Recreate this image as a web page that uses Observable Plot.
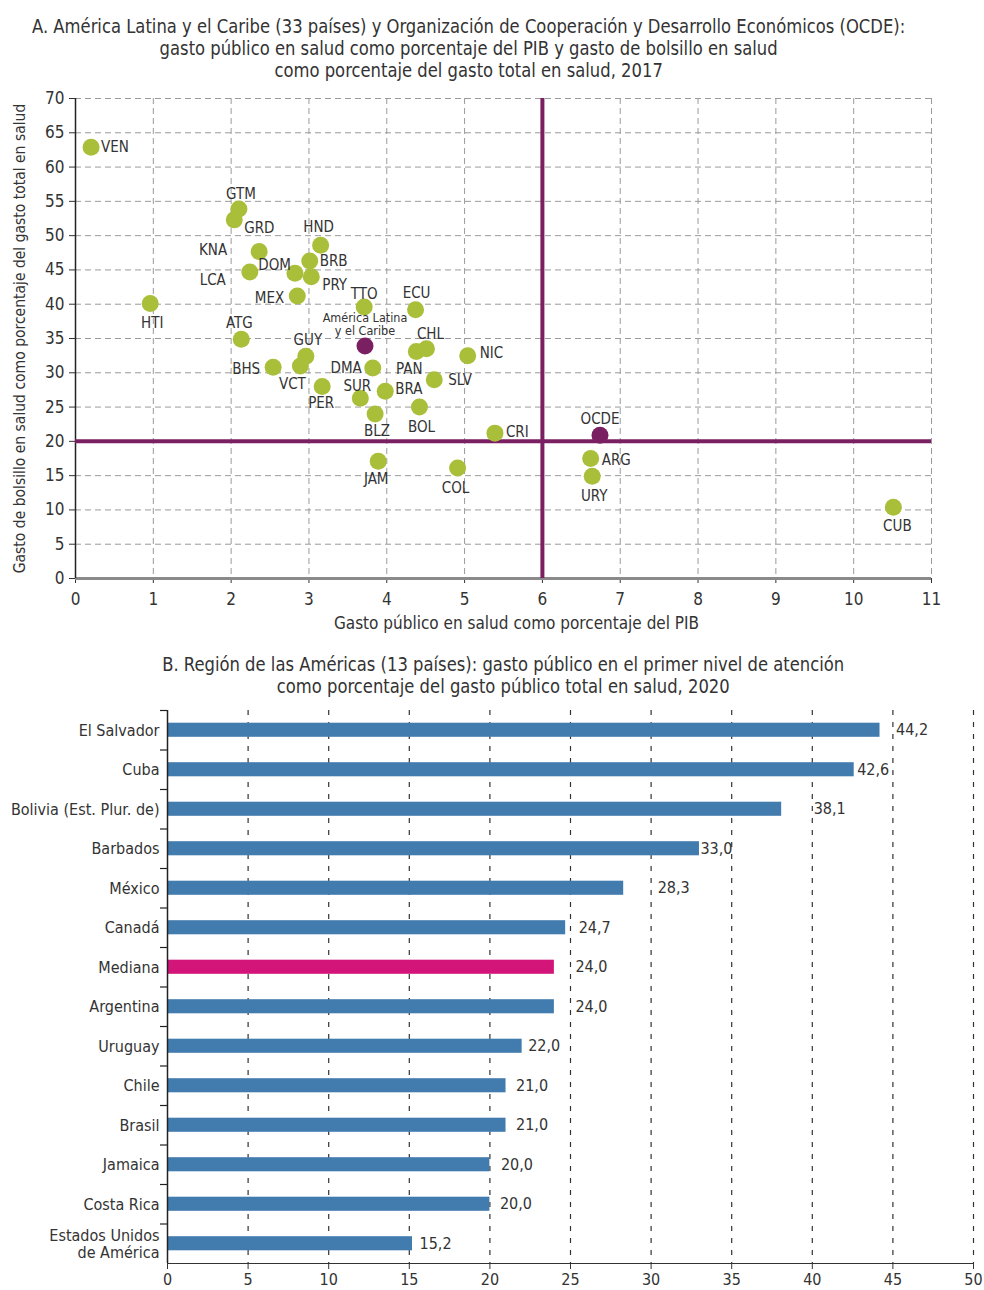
<!DOCTYPE html>
<html><head><meta charset="utf-8">
<script src="https://cdn.jsdelivr.net/npm/d3@7"></script>
<script src="https://cdn.jsdelivr.net/npm/@observablehq/plot@0.6"></script>
<style>
body{margin:0;background:#fff;font-family:"Liberation Sans Narrow","DejaVu Sans Condensed","Roboto Condensed",sans-serif;color:#333;}
.t{box-sizing:border-box;width:984px;text-align:center;font-size:19.5px;line-height:22px;transform:scaleX(0.935);}
#ta{padding:16px 50px 0 0;height:88px;}
#tb{padding:16px 0 0 24px;height:60px;}
svg{display:block}
</style></head><body>
<div id="ta" class="t">A. América Latina y el Caribe (33 países) y Organización de Cooperación y Desarrollo Económicos (OCDE):<br>gasto público en salud como porcentaje del PIB y gasto de bolsillo en salud<br>como porcentaje del gasto total en salud, 2017</div>
<div id="chartA"></div>
<div id="tb" class="t">B. Región de las Américas (13 países): gasto público en el primer nivel de atención<br>como porcentaje del gasto público total en salud, 2020</div>
<div id="chartB"></div>
<script>
// ---------- Data: chart A ----------
const codes = ["VEN","GTM","GRD","HND","KNA","BRB","DOM","LCA","PRY","MEX","HTI","TTO","ECU","ATG","CHL","PAN","NIC","GUY","VCT","BHS","DMA","SLV","PER","BRA","SUR","BOL","BLZ","CRI","JAM","COL","ARG","URY","CUB"];
const gastoPublicoPIB = [0.20,2.10,2.04,3.15,2.36,3.01,2.82,2.24,3.03,2.85,0.96,3.71,4.37,2.13,4.51,4.38,5.04,2.96,2.89,2.54,3.82,4.61,3.17,3.98,3.66,4.42,3.85,5.39,3.89,4.91,6.62,6.64,10.51];
const gastoBolsillo = [62.9,53.9,52.3,48.6,47.7,46.3,44.5,44.7,44.0,41.2,40.1,39.6,39.2,34.9,33.5,33.1,32.5,32.4,31.0,30.8,30.7,29.0,28.0,27.3,26.3,25.0,24.0,21.2,17.1,16.1,17.5,14.9,10.4];
const aggNames = ["América Latina\ny el Caribe","OCDE"];
const aggPIB = [3.72, 6.74];
const aggBolsillo = [33.9, 20.9];
const metaPIB = 6;        // reference line
const metaBolsillo = 20;  // reference line
const xTicksA = [0,1,2,3,4,5,6,7,8,9,10,11];
const yTicksA = [0,5,10,15,20,25,30,35,40,45,50,55,60,65,70];
const xLabelA = "Gasto público en salud como porcentaje del PIB";
const yLabelA = "Gasto de bolsillo en salud como porcentaje del gasto total en salud";

// ---------- Data: chart B ----------
const paises = ["El Salvador","Cuba","Bolivia (Est. Plur. de)","Barbados","México","Canadá","Mediana","Argentina","Uruguay","Chile","Brasil","Jamaica","Costa Rica","Estados Unidos de América"];
const primerNivel = [44.2,42.6,38.1,33.0,28.3,24.7,24.0,24.0,22.0,21.0,21.0,20.0,20.0,15.2];
const xTicksB = [0,5,10,15,20,25,30,35,40,45,50];

// ---------- Layout (label placement, not data) ----------
const labelPlace = {
  VEN:["start",10,0], GTM:["middle",2,-15], GRD:["start",10,8], HND:["middle",-2,-18],
  KNA:["end",-32,-1], BRB:["start",10,0], DOM:["end",-4,-8], LCA:["end",-24,8],
  PRY:["start",11,8], MEX:["end",-13,2], HTI:["middle",2,20], TTO:["middle",0,-13],
  ECU:["middle",1,-17], ATG:["middle",-2,-16], CHL:["middle",4,-15], PAN:["middle",-7,18],
  NIC:["start",12,-2], GUY:["middle",2,-16], VCT:["middle",-8,18], BHS:["end",-13,2],
  DMA:["end",-11,0], SLV:["start",14,1], PER:["middle",-1,17], BRA:["start",10,-2],
  SUR:["middle",-3,-12], BOL:["middle",2,20], BLZ:["middle",2,17], CRI:["start",11,-1],
  JAM:["middle",-2,18], COL:["middle",-2,20], ARG:["start",11,2], URY:["middle",2,20],
  CUB:["middle",4,19]
};
const barLabelDx = [16,3,32,1,34,13,21,21,6,10,10,11,10,7];

const FONT = '"Liberation Sans Narrow","DejaVu Sans Condensed","Roboto Condensed",sans-serif';
const GREEN = "#a9bf3a", PURPLE = "#7b1f63", BLUE = "#427cae", MAGENTA = "#d3157a", TXT = "#333";

// ---------- Chart A ----------
const pts = codes.map((c,i) => ({code:c, x:gastoPublicoPIB[i], y:gastoBolsillo[i]}));
const aggs = aggNames.map((n,i) => ({name:n, x:aggPIB[i], y:aggBolsillo[i]}));

const labelMarks = pts.map(d => {
  const [anchor, dx, dy] = labelPlace[d.code];
  return Plot.text([d], {x:"x", y:"y", text:"code", textAnchor:anchor, dx, dy, fontSize:15, fill:TXT});
});

const chartA = Plot.plot({
  width: 984, height: 550,
  marginTop: 10, marginBottom: 60, marginLeft: 75, marginRight: 53,
  style: {fontFamily: FONT, fontSize: "17px", color: TXT, background: "#fff"},
  x: {domain:[0,11], ticks: xTicksA, tickSize: 5, tickPadding: 9, label: null},
  y: {domain:[0,70], ticks: yTicksA, tickSize: 6, tickPadding: 5, label: null},
  marks: [
    Plot.ruleX(xTicksA.slice(1), {stroke:"#9a9a9a", strokeWidth:1, strokeDasharray:"6,4"}),
    Plot.ruleY(yTicksA.slice(1), {stroke:"#9a9a9a", strokeWidth:1, strokeDasharray:"6,4"}),
    Plot.ruleY([0], {stroke:"#8a8a8a", strokeWidth:3}),
    Plot.ruleX([0], {stroke:"#222", strokeWidth:1.5}),
    Plot.ruleY([metaBolsillo], {stroke:PURPLE, strokeWidth:4}),
    Plot.ruleX([metaPIB], {stroke:PURPLE, strokeWidth:4}),
    Plot.dot(pts, {x:"x", y:"y", r:8.5, fill:GREEN}),
    Plot.dot(aggs, {x:"x", y:"y", r:8.5, fill:PURPLE}),
    ...labelMarks,
    Plot.text([aggs[0]], {x:"x", y:"y", text:"name", lineAnchor:"bottom", dy:-11, lineHeight:1.05, fontSize:12.5, fill:TXT}),
    Plot.text([aggs[1]], {x:"x", y:"y", text:"name", dy:-16, fontSize:15, fill:TXT}),
    Plot.text([xLabelA], {text: d => d, frameAnchor:"bottom", textAnchor:"middle", dy:50, dx:13, fontSize:17, fill:TXT}),
    Plot.text([yLabelA], {text: d => d, frameAnchor:"left", textAnchor:"middle", rotate:-90, dx:-55, fontSize:15.5, fill:TXT})
  ]
});
document.getElementById("chartA").append(chartA);

// ---------- Chart B ----------
const bars = paises.map((p,i) => ({name:p, value:primerNivel[i]}));
const fmt = v => d3.format(".1f")(v).replace(".", ",");
const hB = 592, mTB = 12, mBB = 27;
const step = (hB - mTB - mBB) / paises.length;

const valueMarks = bars.map((d,i) => Plot.text([d], {x:"value", y:"name", text: d => fmt(d.value), textAnchor:"start", dx: barLabelDx[i], fontSize:16, fill:TXT}));

const chartB = Plot.plot({
  width: 984, height: hB,
  marginTop: mTB, marginBottom: mBB, marginLeft: 167, marginRight: 11,
  style: {fontFamily: FONT, fontSize: "16px", color: TXT, background: "#fff"},
  x: {domain:[0,50], ticks: xTicksB, tickSize: 6, tickPadding: 4, label: null, line: true},
  y: {domain: paises, padding: 0, round: false, axis: null},
  marks: [
    Plot.ruleX(xTicksB.slice(1), {stroke:"#333", strokeWidth:1.2, strokeDasharray:"5,7"}),
    Plot.barX(bars, {x:"value", y:"name", fill: d => d.name === "Mediana" ? MAGENTA : BLUE, insetTop: 12.7, insetBottom: 12.7}),
    Plot.ruleX([0], {stroke:"#222", strokeWidth:1.5}),
    Plot.ruleY(paises, {y: d => d, x1: 0, x2: 0, insetLeft: -7, dy: -step/2, stroke:"#222", strokeWidth:1.2}),
    Plot.text(bars, {x: 0, y:"name", text: d => d.name.replace("Estados Unidos ", "Estados Unidos\n"), textAnchor:"end", dx:-8, lineHeight:1.1, fontSize:16, fill:TXT}),
    ...valueMarks
  ]
});
document.getElementById("chartB").append(chartB);
</script>
</body></html>
